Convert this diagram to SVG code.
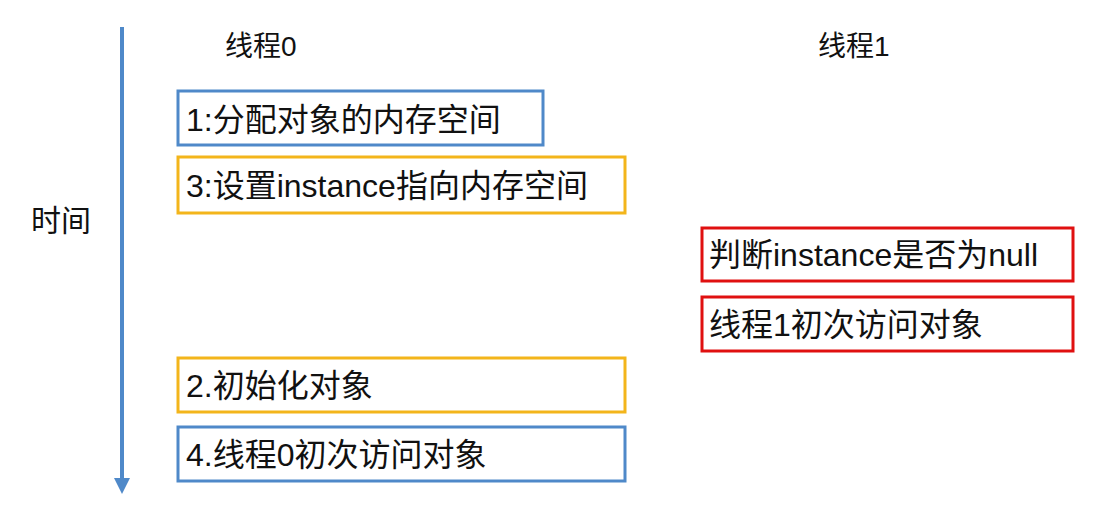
<svg xmlns="http://www.w3.org/2000/svg" width="1099" height="508" viewBox="0 0 1099 508">
<defs>
<style>
text { font-family: "Liberation Sans", "Noto Sans CJK SC", sans-serif; fill: #111; }
.lbl { font-size: 32px; }
.hdr { font-size: 28px; }
.box { fill: #fff; stroke-width: 3; }
.blue { stroke: #4f89c9; }
.yellow { stroke: #f3b51b; }
.red { stroke: #e01010; }
</style>
<marker id="ah" markerWidth="4" markerHeight="4" refX="2" refY="2" orient="auto" markerUnits="strokeWidth">
<path d="M0,0 L4,2 L0,4 z" fill="#4f89c9"/>
</marker>
</defs>
<rect width="1099" height="508" fill="#fff"/>
<g id="connectors">
<line x1="122" y1="27" x2="122" y2="486" stroke="#4f89c9" stroke-width="4" marker-end="url(#ah)"/>
</g>
<g id="time-label"><text x="31" y="231" style="font-size:30px">时间</text></g>
<g id="header0"><text class="hdr" x="225" y="56">线程0</text></g>
<g id="header1"><text class="hdr" x="818" y="56">线程1</text></g>
<g id="step1"><rect class="box blue" x="178" y="91" width="365" height="54"/><text class="lbl" x="186" y="131">1:分配对象的内存空间</text></g>
<g id="step3"><rect class="box yellow" x="178" y="157" width="447" height="56"/><text class="lbl" x="186" y="197">3:设置instance指向内存空间</text></g>
<g id="check"><rect class="box red" x="702" y="228" width="371" height="53"/><text class="lbl" x="709" y="266">判断instance是否为null</text></g>
<g id="access1"><rect class="box red" x="702" y="297" width="371" height="54"/><text class="lbl" x="709" y="336">线程1初次访问对象</text></g>
<g id="step2"><rect class="box yellow" x="178" y="358" width="447" height="54"/><text class="lbl" x="186" y="397">2.初始化对象</text></g>
<g id="step4"><rect class="box blue" x="178" y="427" width="447" height="54"/><text class="lbl" x="186" y="466">4.线程0初次访问对象</text></g>
</svg>
